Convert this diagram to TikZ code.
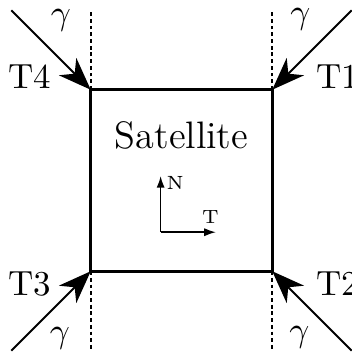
\documentclass[tikz,border=0pt]{standalone}
\usepackage{amsmath}
\usetikzlibrary{arrows.meta, positioning}
\tikzset{
    satbox/.style={rectangle, draw, thick, minimum size=2cm, inner sep=0pt, outer sep=0pt},
    photon/.style={semithick, -{Stealth[length=3.6mm, width=2.7mm, inset=1.1mm]}},
    guide/.style={line width=0.5pt, dash pattern=on 1.2pt off 0.9pt},
    axis/.style={line width=0.5pt, -{Latex[length=1.3mm, width=0.9mm]}},
    thlabel/.style={inner sep=0pt, font=\fontsize{10.95pt}{13.6pt}\selectfont},
    axlabel/.style={inner sep=0pt, font=\fontsize{6pt}{7pt}\selectfont},
}
\begin{document}
\begin{tikzpicture}
    \useasboundingbox (-1.0,-0.934) rectangle (2.868,2.989);
    \node[satbox] (sat) at (1,1) {};
    \node[font=\fontsize{12pt}{14.5pt}\selectfont] (name) at (1,1.5) {Satellite};
    % incoming photons
    \coordinate (g1) at (2.875,2.875);
    \coordinate (g2) at (2.875,-0.875);
    \coordinate (g3) at (-0.875,-0.875);
    \coordinate (g4) at (-0.875,2.875);
    \draw[photon] (g1) -- (sat.north east);
    \draw[photon] (g2) -- (sat.south east);
    \draw[photon] (g3) -- (sat.south west);
    \draw[photon] (g4) -- (sat.north west);
    % vertical guides
    \coordinate (d1) at (2,2.875);
    \coordinate (d2) at (2,-0.875);
    \coordinate (d3) at (0,-0.875);
    \coordinate (d4) at (0,2.875);
    \draw[guide] (sat.north east) -- (d1);
    \draw[guide] (sat.south east) -- (d2);
    \draw[guide] (sat.south west) -- (d3);
    \draw[guide] (sat.north west) -- (d4);
    \node[thlabel] (gam1) at (2.31,2.77) {$\gamma$};
    \node[thlabel] (gam2) at (2.30,-0.73) {$\gamma$};
    \node[thlabel] (gam3) at (-0.34,-0.74) {$\gamma$};
    \node[thlabel] (gam4) at (-0.33,2.76) {$\gamma$};
    \node[thlabel, anchor=west] (t1) at (2.48,2.14) {T1};
    \node[thlabel, anchor=west] (t2) at (2.48,-0.14) {T2};
    \node[thlabel, anchor=east] (t3) at (-0.43,-0.14) {T3};
    \node[thlabel, anchor=east] (t4) at (-0.43,2.14) {T4};
    % local frame
    \coordinate (o) at (0.77,0.43);
    \coordinate (n) at (0.77,1.05);
    \coordinate (t) at (1.38,0.43);
    \draw[axis] (o) -- (n);
    \draw[axis] (o) -- (t);
    \node[axlabel] (nl) at (0.93,0.97) {N};
    \node[axlabel] (tl) at (1.32,0.595) {T};
\end{tikzpicture}
\end{document}
